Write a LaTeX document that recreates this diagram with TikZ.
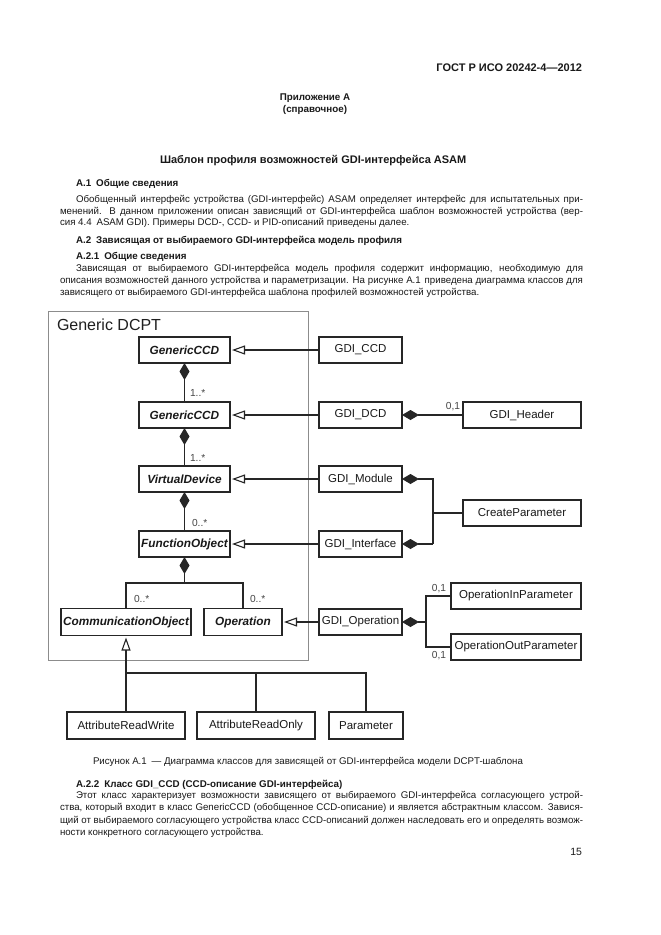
\documentclass[tikz,border=0pt]{standalone}
\usepackage{fontspec}
\usepackage{graphicx}
\setmainfont{Liberation Sans}
\usetikzlibrary{arrows.meta}
\newlength\jw
\newcommand\jl[2]{\setlength\jw{#1}\sbox0{#2}\ifdim\wd0>\jw\resizebox{\jw}{\ht0}{\usebox0}\else\hbox to \jw{#2}\fi}
\begin{document}
\begin{tikzpicture}[x=1pt,y=-1pt,
  every node/.style={inner sep=0pt,outer sep=0pt},
  txt/.style={anchor=base west,text=black!90,font=\fontsize{9.7}{11}\selectfont},
  hd/.style={anchor=base west,text=black!90,font=\fontsize{9.8}{11}\selectfont\bfseries},
  cls/.style={draw=black!85,line width=1.15pt,fill=white,minimum height=26pt,text=black!90,font=\fontsize{11.8}{13}\selectfont\bfseries\itshape},
  gdi/.style={draw=black!85,line width=1.15pt,fill=white,minimum height=26pt,text=black!90,font=\fontsize{11.5}{13}\selectfont},
  inh/.style={draw=black!85,line width=1.1pt,-{Triangle[open,length=13pt,width=9pt,line width=1.1pt]},shorten >=2pt},
  comp/.style={draw=black!85,line width=1.1pt,{Diamond[length=17pt,width=10pt]}-},
  conn/.style={draw=black!85,line width=1.1pt},
  mult/.style={font=\fontsize{10.2}{10}\selectfont,text=black!72}]
\useasboundingbox[fill=white] (0,0) rectangle (661,935);

% ---- page text ----
\node[anchor=base east,text=black!90,font=\fontsize{11}{13}\selectfont\bfseries] (hdr) at (582,71) {ГОСТ Р ИСО 20242-4—2012};
\node[anchor=base,text=black!90,font=\fontsize{9.8}{11}\selectfont\bfseries] (app) at (315,100.5) {Приложение А};
\node[anchor=base,text=black!90,font=\fontsize{9.8}{11}\selectfont\bfseries] (ref) at (315,112.5) {(справочное)};
\node[anchor=base west,text=black!90,font=\fontsize{11}{13}\selectfont\bfseries] (ttl) at (160,163) {Шаблон профиля возможностей GDI-интерфейса ASAM};

\node[hd] (h1) at (76,186.5) {А.1\hspace{0.5em}Общие сведения};
\node[txt] (p1a) at (76,202.5) {\jl{507pt}{Обобщенный интерфейс устройства (GDI-интерфейс) ASAM определяет интерфейс для испытательных при-}};
\node[txt] (p1b) at (60,214) {\jl{523pt}{менений. В данном приложении описан зависящий от GDI-интерфейса шаблон возможностей устройства (вер-}};
\node[txt] (p1c) at (60,225.5) {сия 4.4\hspace{0.5em}ASAM GDI). Примеры DCD-, CCD- и PID-описаний приведены далее.};

\node[hd] (h2) at (76,243.5) {А.2\hspace{0.5em}Зависящая от выбираемого GDI-интерфейса модель профиля};
\node[hd] (h21) at (76,259) {А.2.1\hspace{0.5em}Общие сведения};
\node[txt] (p2a) at (76,271) {\jl{507pt}{Зависящая от выбираемого GDI-интерфейса модель профиля содержит информацию, необходимую для}};
\node[txt] (p2b) at (60,283) {\jl{523pt}{описания возможностей данного устройства и параметризации. На рисунке А.1\hspace{0.4em}приведена диаграмма классов для}};
\node[txt] (p2c) at (60,295) {зависящего от выбираемого GDI-интерфейса шаблона профилей возможностей устройства.};

\node[txt] (cap) at (93,764) {Рисунок А.1\hspace{0.5em}— Диаграмма классов для зависящей от GDI-интерфейса модели DCPT-шаблона};
\node[hd] (h22) at (76,787.5) {А.2.2\hspace{0.5em}Класс GDI\_CCD (CCD-описание GDI-интерфейса)};
\node[txt] (p3a) at (76,798.5) {\jl{507pt}{Этот класс характеризует возможности зависящего от выбираемого GDI-интерфейса согласующего устрой-}};
\node[txt] (p3b) at (60,810.8) {\jl{523pt}{ства, который входит в класс GenericCCD (обобщенное CCD-описание) и является абстрактным классом. Завися-}};
\node[txt] (p3c) at (60,823) {\jl{523pt}{щий от выбираемого согласующего устройства класс CCD-описаний должен наследовать его и определять возмож-}};
\node[txt] (p3d) at (60,835.3) {ности конкретного согласующего устройства.};
\node[anchor=base east,text=black!90,font=\fontsize{10.5}{12}\selectfont] (pg) at (582,855) {15};

% ---- diagram ----
\node[draw=black!45,line width=0.9pt,minimum width=260pt,minimum height=349pt] (dcpt) at (178,485.5) {};
\node[anchor=west,text=black!88,font=\fontsize{16}{18}\selectfont] (dcptl) at (57,325) {Generic DCPT};

\node[cls,minimum width=91pt] (gc1) at (184.5,350) {GenericCCD};
\node[cls,minimum width=91pt] (gc2) at (184.5,415) {GenericCCD};
\node[cls,minimum width=91pt] (vd) at (184.5,479) {VirtualDevice};
\node[cls,minimum width=91pt] (fo) at (184.5,544) {FunctionObject};
\node[cls,minimum width=130pt,minimum height=27pt] (co) at (126,622) {CommunicationObject};
\node[cls,minimum width=78pt,minimum height=27pt] (op) at (243,622) {Operation};

\node[gdi,minimum width=118pt,minimum height=27pt] (arw) at (126,725.5) {AttributeReadWrite};
\node[gdi,minimum width=118pt,minimum height=27pt] (aro) at (256,725.5) {AttributeReadOnly};
\node[gdi,minimum width=74pt,minimum height=27pt] (par) at (366,725.5) {Parameter};

\node[gdi,minimum width=83pt] (gccd) at (360.5,350) {GDI\_CCD};
\node[gdi,minimum width=83pt] (gdcd) at (360.5,415) {GDI\_DCD};
\node[gdi,minimum width=83pt] (gmod) at (360.5,479) {GDI\_Module};
\node[gdi,minimum width=83pt] (gint) at (360.5,544) {GDI\_Interface};
\node[gdi,minimum width=83pt] (gop) at (360.5,622) {GDI\_Operation};

\node[gdi,minimum width=118pt] (ghead) at (522,415) {GDI\_Header};
\node[gdi,minimum width=118pt] (cpar) at (522,513) {CreateParameter};
\node[gdi,minimum width=130pt] (opin) at (516,596) {OperationInParameter};
\node[gdi,minimum width=130pt] (opout) at (516,647) {OperationOutParameter};

% composition chain
\draw[comp] (gc1.south) -- (gc2.north);
\draw[comp] (gc2.south) -- (vd.north);
\draw[comp] (vd.south) -- (fo.north);
\node[mult,anchor=west] (m1) at (190,393) {1..*};
\node[mult,anchor=west] (m2) at (190,457.5) {1..*};
\node[mult,anchor=west] (m3) at (192,523) {0..*};

\coordinate (j1) at (184.5,583);
\draw[comp] (fo.south) -- (j1);
\draw[conn] (co.north) |- (j1) -| (op.north);
\node[mult,anchor=west] (m4) at (134,599) {0..*};
\node[mult,anchor=west] (m5) at (250,599) {0..*};

% inheritance of attributes
\coordinate (j2) at (126,673);
\draw[inh] (j2) -- (co.south);
\draw[conn] (arw.north) |- (par.north |- j2) -- (par.north);
\draw[conn] (aro.north) -- (aro.north |- j2);

% inheritance from GDI classes
\draw[inh] (gccd.west) -- (gc1.east);
\draw[inh] (gdcd.west) -- (gc2.east);
\draw[inh] (gmod.west) -- (vd.east);
\draw[inh] (gint.west) -- (fo.east);
\draw[inh] (gop.west) -- (op.east);

% right side compositions
\draw[comp] (gdcd.east) -- (ghead.west);
\node[mult,anchor=center] (m6) at (453,407) {0,1};

\coordinate (k1) at (433,479);
\coordinate (k2) at (433,544);
\draw[comp] (gmod.east) -- (k1) -- (k2);
\draw[comp] (gint.east) -- (k2);
\draw[conn] (k1 |- cpar.west) -- (cpar.west);

\coordinate (q1) at (426,622);
\draw[comp] (gop.east) -- (q1);
\draw[conn] (opin.west) -| (q1) |- (opout.west);
\node[mult,anchor=center] (m7) at (439,589) {0,1};
\node[mult,anchor=center] (m8) at (439,656) {0,1};
\end{tikzpicture}
\end{document}
